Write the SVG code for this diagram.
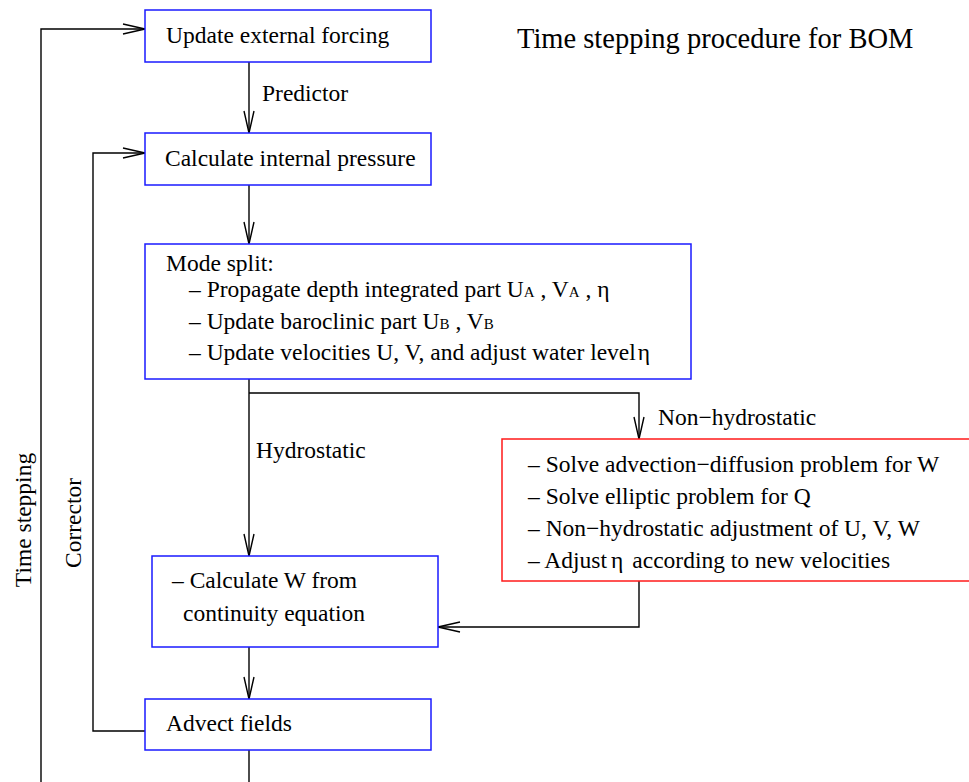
<svg xmlns="http://www.w3.org/2000/svg" width="969" height="782" viewBox="0 0 969 782">
  <style>
    text { font-family: 'Liberation Serif', 'DejaVu Serif', serif; font-size: 23.5px; fill: #000; }
    .title { font-size: 28.5px; }
    .sub { font-size: 15px; }
    .box { fill: #fff; stroke: #1a1aff; stroke-width: 1.5; }
    .nh { fill: #fff; stroke: #ff1a1a; stroke-width: 1.5; }
    .wire { fill: none; stroke: #000; stroke-width: 1.4; }
  </style>
  <defs>
    <marker id="arrow" markerUnits="userSpaceOnUse" markerWidth="26" markerHeight="14" viewBox="-24 -7 26 14" refX="0" refY="0" orient="auto">
      <path d="M-22,-5 L0,0 L-22,5" fill="none" stroke="#000" stroke-width="1.4"/>
    </marker>
  </defs>

  <rect width="969" height="782" fill="#fff"/>

  <text class="title" x="517" y="48">Time stepping procedure for BOM</text>

  <g id="connectors">
    <!-- outer time stepping loop -->
    <path class="wire" d="M41,782 V29 H145" marker-end="url(#arrow)"/>
    <!-- predictor -->
    <path class="wire" d="M249,62 V133" marker-end="url(#arrow)"/>
    <!-- corrector loop -->
    <path class="wire" d="M145,731 H93 V153 H145" marker-end="url(#arrow)"/>
    <path class="wire" d="M249,185 V244" marker-end="url(#arrow)"/>
    <!-- hydrostatic branch -->
    <path class="wire" d="M249,379 V556" marker-end="url(#arrow)"/>
    <!-- non-hydrostatic branch -->
    <path class="wire" d="M249,393 H639 V439" marker-end="url(#arrow)"/>
    <path class="wire" d="M639,581 V627 H438" marker-end="url(#arrow)"/>
    <path class="wire" d="M249,647 V699" marker-end="url(#arrow)"/>
    <path class="wire" d="M249,750 V782"/>

    <text x="262" y="101">Predictor</text>
    <text x="256" y="458">Hydrostatic</text>
    <text x="658" y="425">Non−hydrostatic</text>
    <text x="31" y="520" text-anchor="middle" transform="rotate(-90 31 520)">Time stepping</text>
    <text x="81" y="523" text-anchor="middle" transform="rotate(-90 81 523)">Corrector</text>
  </g>

  <g id="external-forcing">
    <rect class="box" x="145" y="10" width="286" height="52"/>
    <text x="166" y="43">Update external forcing</text>
  </g>

  <g id="internal-pressure">
    <rect class="box" x="145" y="133" width="286" height="52"/>
    <text x="165" y="166">Calculate internal pressure</text>
  </g>

  <g id="mode-split">
    <rect class="box" x="145" y="244" width="546" height="135"/>
    <text x="166" y="271">Mode split:</text>
    <text x="189" y="297">– Propagate depth integrated part U<tspan class="sub">A</tspan> , V<tspan class="sub">A</tspan> , η</text>
    <text x="189" y="329">– Update baroclinic part U<tspan class="sub">B</tspan> , V<tspan class="sub">B</tspan></text>
    <text x="189" y="360">– Update velocities U, V, and adjust water level<tspan dx="2">η</tspan></text>
  </g>

  <g id="non-hydrostatic">
    <rect class="nh" x="502" y="439" width="480" height="142"/>
    <text x="528" y="472">– Solve advection−diffusion problem for W</text>
    <text x="528" y="504">– Solve elliptic problem for Q</text>
    <text x="528" y="536">– Non−hydrostatic adjustment of U, V, W</text>
    <text x="528" y="568">– Adjust<tspan dx="4">η</tspan><tspan dx="9">according to new velocities</tspan></text>
  </g>

  <g id="vertical-velocity">
    <rect class="box" x="152" y="556" width="286" height="91"/>
    <text x="172" y="588">– Calculate W from</text>
    <text x="183" y="621">continuity equation</text>
  </g>

  <g id="advect-fields">
    <rect class="box" x="145" y="699" width="286" height="51"/>
    <text x="166" y="731">Advect fields</text>
  </g>
</svg>
